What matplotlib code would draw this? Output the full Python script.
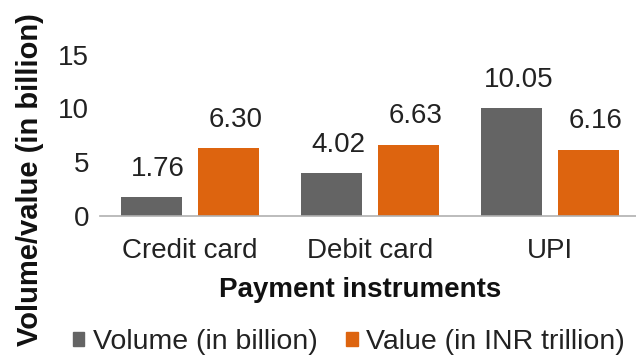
import matplotlib.pyplot as plt
import numpy as np
from matplotlib.patches import Patch

plt.rcParams['font.family'] = ['Liberation Sans', 'DejaVu Sans']

categories = ['Credit card', 'Debit card', 'UPI']
volume = [1.76, 4.02, 10.05]   # in billion
value = [6.30, 6.63, 6.16]     # in INR trillion
yticks = [0, 5, 10, 15]

GRAY = '#646464'
ORANGE = '#DD640F'

fig = plt.figure(figsize=(6.36, 3.59), dpi=100)
ax = fig.add_axes([100 / 636, 0.398, 540 / 636, 0.45])

x = np.arange(len(categories))
w = 0.34
b1 = ax.bar(x - 0.215, volume, w, color=GRAY)
b2 = ax.bar(x + 0.215, value, w, color=ORANGE)

for bars, vals in [(b1, volume), (b2, value)]:
    for bar, v in zip(bars, vals):
        ax.annotate(f'{v:.2f}', (bar.get_x() + bar.get_width() / 2, v),
                    xytext=(5, 11), textcoords='offset points',
                    ha='center', va='bottom', fontsize=20, color='#222222')

ax.set_xlim(-0.5, 2.5)
ax.set_ylim(0, 15)
ax.set_yticks(yticks)
ax.set_xticks(x)
ax.set_xticklabels(categories)
ax.tick_params(axis='both', length=0, labelsize=20, colors='#222222')
ax.tick_params(axis='y', pad=8)
ax.tick_params(axis='x', pad=16)
for s in ['top', 'right', 'left']:
    ax.spines[s].set_visible(False)
ax.spines['bottom'].set_color('#b0b0b0')
ax.spines['bottom'].set_linewidth(1.2)

fig.text(360 / 636, 1 - 290 / 359, 'Payment instruments', ha='center', va='center',
         fontsize=20, fontweight='bold', color='#111111')
fig.text(30 / 636, 1 - 180 / 359, 'Volume/value (in billion)', ha='center', va='center',
         rotation=90, fontsize=21, fontweight='bold', color='#111111')

handles = [Patch(color=GRAY, label='Volume (in billion)'),
           Patch(color=ORANGE, label='Value (in INR trillion)')]
fig.legend(handles=handles, loc='center', bbox_to_anchor=(349 / 636, 1 - 342 / 359),
           ncol=2, frameon=False, fontsize=20.5, handlelength=0.4, handleheight=0.4,
           handletextpad=0.3, columnspacing=1.0, labelcolor='#222222')

fig.savefig('out.png', dpi=100)
